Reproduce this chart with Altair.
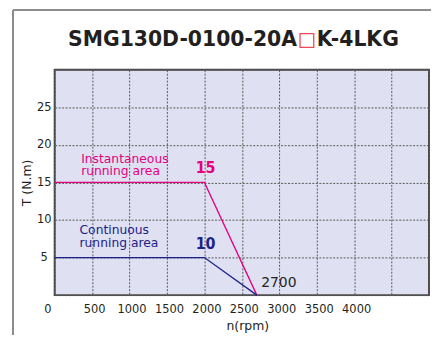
import altair as alt
import pandas as pd

# ---- data ----
speed_inst = [0, 2000, 2700]
torque_inst = [15, 15, 0]
speed_cont = [0, 2000, 2700]
torque_cont = [5, 5, 0]

x_ticks = [0, 500, 1000, 1500, 2000, 2500, 3000, 3500, 4000, 4500, 5000]
y_ticks = [0, 5, 10, 15, 20, 25, 30]

title_left = "SMG130D-0100-20A"
title_right = "K-4LKG"

PINK = "#e4007f"
NAVY = "#1d2088"
DARK = "#231f20"

W, H = 377, 227
PAD = {"left": 47, "top": 61, "right": 2, "bottom": 40}

lines_df = pd.DataFrame(
    {"speed": speed_inst + speed_cont,
     "torque": torque_inst + torque_cont,
     "series": ["inst"] * len(speed_inst) + ["cont"] * len(speed_cont)}
)

ann_df = pd.DataFrame([
    {"x": 354, "y": 18.07, "t": "Instantaneous", "c": "inst"},
    {"x": 354, "y": 16.52, "t": "running area", "c": "inst"},
    {"x": 332, "y": 8.63, "t": "Continuous", "c": "cont"},
    {"x": 332, "y": 6.96, "t": "running area", "c": "cont"},
])
big_df = pd.DataFrame([
    {"x": 2016, "y": 16.9, "t": "15", "c": "inst"},
    {"x": 2016, "y": 6.74, "t": "10", "c": "cont"},
])
rpm_df = pd.DataFrame([{"x": 2758, "y": 1.55, "t": "2700"}])

xscale = alt.Scale(domain=[0, 5000], nice=False, zero=False)
yscale = alt.Scale(domain=[0, 30], nice=False, zero=False)
color_scale = alt.Scale(domain=["inst", "cont"], range=[PINK, NAVY])

x_axis = alt.Axis(
    values=x_ticks,
    format="d",
    labelExpr="datum.value >= 4500 ? '' : datum.label",
    labelOffset={"condition": {"test": "datum.value === 0", "value": -11}, "value": 2},
    labelPadding=8,
    title="n(rpm)",
    titleX=194, titleY=31, titleAnchor="middle", titleAlign="center",
    titleBaseline="middle",
)
y_axis = alt.Axis(
    values=y_ticks,
    format="d",
    labelExpr="(datum.value == 0 || datum.value == 30) ? '' : datum.label",
    labelAlign="center", labelBaseline="middle", labelPadding=11,
    title="T (N.m)",
    titleX=-28, titleY=113.5, titleAlign="center", titleBaseline="middle",
    titleAngle=270,
)


def X(field):
    return alt.X(field, scale=xscale, axis=x_axis)


def Y(field):
    return alt.Y(field, scale=yscale, axis=y_axis)


base = alt.Chart(lines_df)

# decorative panel frame: only its top and left edges are visible
frame_left = base.mark_rule(stroke="#8c8c8c", strokeWidth=1.5).encode(
    x=alt.value(-42), y=alt.value(-60), y2=alt.value(H + PAD["bottom"])
)
frame_top = base.mark_rule(stroke="#8c8c8c", strokeWidth=1.5).encode(
    x=alt.value(-42), x2=alt.value(W + PAD["right"]), y=alt.value(-60)
)

lines = base.mark_line(strokeWidth=1.3).encode(
    x=X("speed:Q"),
    y=Y("torque:Q"),
    color=alt.Color("series:N", scale=color_scale, legend=None),
    detail="series:N",
)

ann = alt.Chart(ann_df).mark_text(
    align="left", baseline="middle", font="DejaVu Sans", fontSize=12.4
).encode(
    x=X("x:Q"),
    y=Y("y:Q"),
    text="t:N",
    color=alt.Color("c:N", scale=color_scale, legend=None),
)

big = alt.Chart(big_df).mark_text(
    align="center", baseline="middle",
    font="Liberation Sans Narrow, DejaVu Sans Condensed, Liberation Sans",
    fontWeight="bold", fontSize=16
).encode(
    x=X("x:Q"),
    y=Y("y:Q"),
    text="t:N",
    color=alt.Color("c:N", scale=color_scale, legend=None),
)

rpm = alt.Chart(rpm_df).mark_text(
    align="left", baseline="middle", font="DejaVu Sans", fontSize=14, color=DARK
).encode(
    x=X("x:Q"),
    y=Y("y:Q"),
    text="t:N",
)

tl = alt.Chart(pd.DataFrame([{"t": title_left}])).mark_text(
    align="right", baseline="middle", font="DejaVu Sans", fontWeight="bold",
    fontSize=20.5, color=DARK
).encode(x=alt.value(244), y=alt.value(-30), text="t:N")

tr = alt.Chart(pd.DataFrame([{"t": title_right}])).mark_text(
    align="left", baseline="middle", font="DejaVu Sans", fontWeight="bold",
    fontSize=20.5, color=DARK
).encode(x=alt.value(264), y=alt.value(-30), text="t:N")

box = alt.Chart(pd.DataFrame([{"t": "box"}])).mark_point(
    shape="square", filled=False, stroke="#e60012", strokeWidth=1.3, size=190
).encode(x=alt.value(254), y=alt.value(-29.5))

chart = alt.layer(frame_left, frame_top, lines, ann, big, rpm, tl, tr, box).properties(
    width=W, height=H,
    autosize=alt.AutoSizeParams(type="none"),
    padding=PAD,
    background="white",
).configure_view(
    fill="#dfe1f2", stroke="#4a4a4a", strokeWidth=2
).configure_axis(
    domain=False, ticks=False, tickSize=0,
    grid=True, gridColor="#5a5a5a", gridDash=[2, 1.5], gridWidth=1,
    labelFont="DejaVu Sans", labelFontSize=11.5, labelColor=DARK,
    titleFont="DejaVu Sans", titleFontSize=12.5, titleFontWeight="normal",
    titleColor=DARK,
)

chart.save("out.html", embed_options={"renderer": "svg", "actions": False})
